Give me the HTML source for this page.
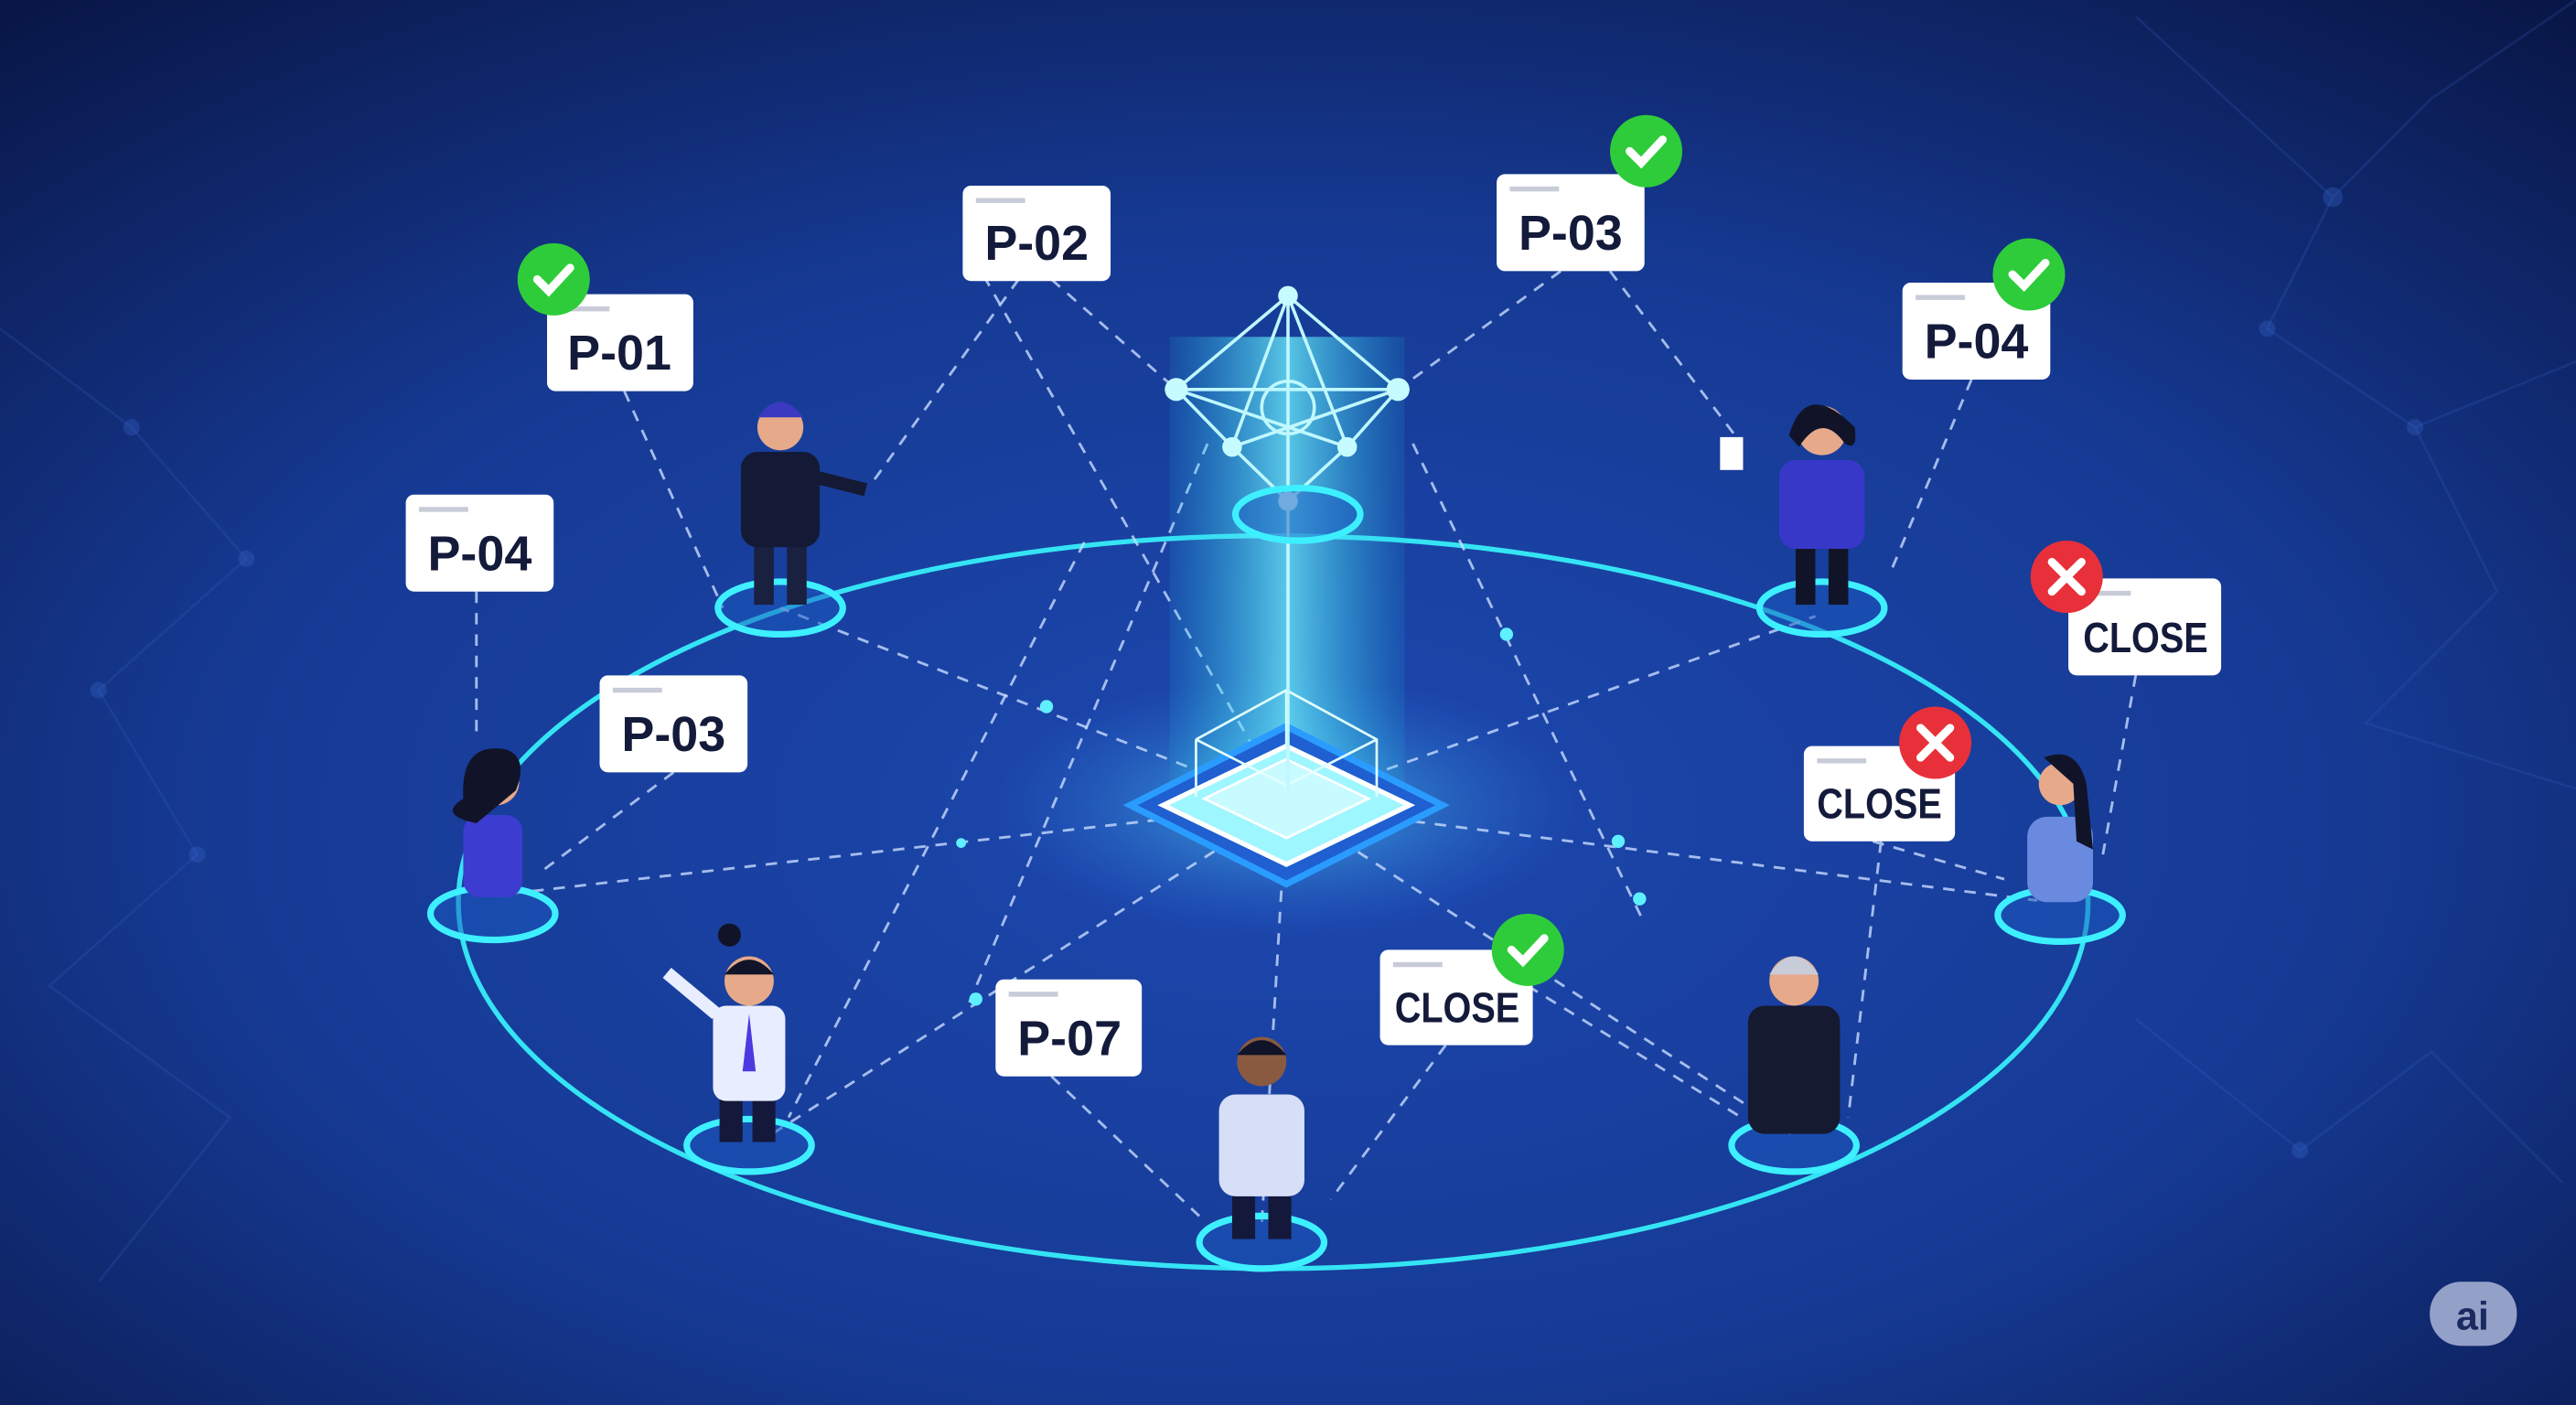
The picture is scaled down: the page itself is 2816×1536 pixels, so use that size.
<!DOCTYPE html>
<html><head><meta charset="utf-8"><style>
html,body{margin:0;padding:0;background:#0c1d58;overflow:hidden}
svg{display:block}
text{font-family:"Liberation Sans",sans-serif;font-weight:bold}
</style></head><body>
<svg width="2816" height="1536" viewBox="0 0 1568 855" preserveAspectRatio="none" xmlns="http://www.w3.org/2000/svg">
<defs>
<radialGradient id="bg" cx="0.5" cy="0.58" r="0.75">
<stop offset="0" stop-color="#1d48b0"/><stop offset="0.55" stop-color="#163a94"/><stop offset="1" stop-color="#091748"/>
</radialGradient>
<linearGradient id="pill" x1="0" x2="1">
<stop offset="0" stop-color="#22c8e8" stop-opacity="0.1"/><stop offset="0.5" stop-color="#6ff4ff" stop-opacity="0.75"/><stop offset="1" stop-color="#22c8e8" stop-opacity="0.1"/>
</linearGradient>
<radialGradient id="glow" cx="0.5" cy="0.5" r="0.5">
<stop offset="0" stop-color="#5ff0ff" stop-opacity="0.6"/><stop offset="1" stop-color="#2a7ae0" stop-opacity="0"/>
</radialGradient>
<g id="ring"><ellipse rx="38" ry="16" fill="#1a5ac0" fill-opacity="0.5" stroke="#3ef0ff" stroke-width="4"/></g>
</defs>
<rect width="1568" height="855" fill="url(#bg)"/>
<g stroke="#3a6acc" stroke-opacity="0.2" fill="none" stroke-width="1.5">
<path d="M0 200 L80 260 L150 340 L60 420 L120 520 L30 600 L140 680 L60 780"/>
<path d="M1300 10 L1420 120 L1480 60 L1568 0 M1420 120 L1380 200 L1470 260 L1568 220 M1470 260 L1520 360 L1440 440 L1568 480"/>
<path d="M1300 620 L1400 700 L1480 640 L1560 720"/>
</g>
<g fill="#3a6acc" fill-opacity="0.3"><circle cx="80" cy="260" r="5"/><circle cx="150" cy="340" r="5"/><circle cx="60" cy="420" r="5"/><circle cx="120" cy="520" r="5"/><circle cx="1420" cy="120" r="6"/><circle cx="1470" cy="260" r="5"/><circle cx="1400" cy="700" r="5"/><circle cx="1380" cy="200" r="5"/></g>
<ellipse cx="783" cy="490" rx="180" ry="80" fill="url(#glow)"/>
<ellipse cx="775" cy="549" rx="496" ry="223" fill="none" stroke="#35e4f4" stroke-width="3"/>
<g stroke="#c8dcff" stroke-opacity="0.8" stroke-width="1.6" stroke-dasharray="7 6" fill="none">
<path d="M783 490 L475 370 M783 490 L300 545 M783 490 L470 690 M783 490 L768 745 M783 490 L1090 690 M783 490 L1240 548 M783 490 L1105 375 M783 490 L600 170"/>
<path d="M620 170 L530 295 M640 170 L716 237 M380 238 L440 370 M290 360 L290 450 M410 470 L330 530 M950 165 L851 237 M980 165 L1060 270 M1200 231 L1150 350 M1300 411 L1280 520 M1140 512 L1220 535 M1145 512 L1125 680 M880 636 L810 730 M930 600 L1060 680 M640 655 L730 740 M860 270 L1000 560 M660 330 L480 680 M735 270 L590 610"/>
</g>
<g fill="#5ff0ff"><circle cx="637" cy="430" r="4"/><circle cx="917" cy="386" r="4"/><circle cx="998" cy="547" r="4"/><circle cx="985" cy="512" r="4"/><circle cx="594" cy="608" r="4"/><circle cx="585" cy="513" r="3"/></g>
<rect x="712" y="205" width="143" height="280" fill="url(#pill)"/>
<g transform="translate(783,490)">
<path d="M-95 0 L0 -48 L95 0 L0 48 Z" fill="#1f5fd0" stroke="#2a9cff" stroke-width="4"/>
<path d="M-75 0 L0 -36 L75 0 L0 36 Z" fill="#9ef6ff" stroke="#fff" stroke-width="3"/>
<path d="M-50 -4 L0 -28 L50 -4 L0 20 Z" fill="#c8fbff" stroke="#fff" stroke-width="1.5"/>
<path d="M-55 -40 L0 -70 L55 -40 L55 -5 M-55 -40 L-55 -5 M0 -70 L0 -35 M-55 -40 L0 -12 L55 -40" stroke="#e0ffff" stroke-width="1.5" fill="none"/>
</g>
<g stroke="#bff8ff" stroke-width="2" fill="none">
<path d="M784 180 L716 237 L750 272 L784 305 L820 272 L851 237 Z M784 180 L750 272 M784 180 L820 272 M716 237 L851 237 M716 237 L820 272 M851 237 L750 272 M784 180 L784 305 M784 305 L784 480"/>
<circle cx="784" cy="248" r="16"/>
</g>
<g fill="#c6fbff"><circle cx="784" cy="180" r="6"/><circle cx="716" cy="237" r="7"/><circle cx="851" cy="237" r="7"/><circle cx="750" cy="272" r="6"/><circle cx="820" cy="272" r="6"/><circle cx="784" cy="305" r="6"/></g>
<use href="#ring" x="790" y="313"/>
<use href="#ring" x="475" y="370"/><use href="#ring" x="300" y="556"/><use href="#ring" x="456" y="697"/><use href="#ring" x="768" y="756"/><use href="#ring" x="1092" y="697"/><use href="#ring" x="1254" y="557"/><use href="#ring" x="1109" y="370"/>
<g>
<g transform="translate(475,370)"><rect x="-16" y="-40" width="12" height="38" fill="#1a2040"/><rect x="4" y="-40" width="12" height="38" fill="#1a2040"/><rect x="-24" y="-95" width="48" height="58" rx="10" fill="#141a36"/><circle cx="0" cy="-110" r="14" fill="#e6a98a"/><path d="M-14 -116 Q0 -135 14 -116 Z" fill="#3a3ac0"/><path d="M20 -80 L52 -72" stroke="#141a36" stroke-width="8"/></g>
<g transform="translate(300,556)"><rect x="-18" y="-60" width="36" height="50" rx="10" fill="#3c3cd0"/><circle cx="2" cy="-80" r="14" fill="#e6a98a"/><path d="M-18 -70 Q-20 -105 8 -100 Q22 -95 14 -75 L-10 -55 Q-34 -60 -18 -70Z" fill="#111428"/></g>
<g transform="translate(456,697)"><rect x="-18" y="-30" width="14" height="28" fill="#14183a"/><rect x="2" y="-30" width="14" height="28" fill="#14183a"/><rect x="-22" y="-85" width="44" height="58" rx="8" fill="#e8eeff"/><path d="M0 -80 L-4 -45 L4 -45Z" fill="#4a3ae0"/><circle cx="0" cy="-100" r="15" fill="#e6a98a"/><path d="M-15 -104 Q0 -122 15 -104Z" fill="#111428"/><circle cx="-12" cy="-128" r="7" fill="#111428"/><path d="M-20 -80 L-50 -105" stroke="#e8eeff" stroke-width="8"/></g>
<g transform="translate(768,756)"><rect x="-18" y="-30" width="14" height="28" fill="#14183a"/><rect x="4" y="-30" width="14" height="28" fill="#14183a"/><rect x="-26" y="-90" width="52" height="62" rx="10" fill="#d6def8"/><circle cx="0" cy="-110" r="15" fill="#8a5a40"/><path d="M-15 -114 Q0 -132 15 -114Z" fill="#111428"/></g>
<g transform="translate(1092,697)"><rect x="-28" y="-85" width="56" height="78" rx="10" fill="#151a30"/><circle cx="0" cy="-100" r="15" fill="#e6a98a"/><path d="M-15 -104 Q0 -126 15 -104Z" fill="#c8ccd8"/></g>
<g transform="translate(1254,557)"><rect x="-20" y="-60" width="40" height="52" rx="12" fill="#6a8ae0"/><circle cx="0" cy="-80" r="13" fill="#e6a98a"/><path d="M-10 -96 Q10 -104 16 -80 L20 -40 L10 -45 L8 -80Z" fill="#111428"/></g>
<g transform="translate(1109,370)"><rect x="-16" y="-40" width="12" height="38" fill="#111428"/><rect x="4" y="-40" width="12" height="38" fill="#111428"/><rect x="-26" y="-90" width="52" height="54" rx="10" fill="#3838c8"/><circle cx="0" cy="-108" r="15" fill="#e6a98a"/><path d="M-20 -105 Q-10 -140 20 -110 Q22 -95 14 -100 Q0 -120 -14 -98Z" fill="#111428"/><rect x="-62" y="-104" width="14" height="20" fill="#fff"/></g>
</g>
<g fill="#fff"><rect x="586" y="113" width="90" height="58" rx="5"/><rect x="333" y="179" width="89" height="59" rx="5"/><rect x="911" y="106" width="90" height="59" rx="5"/><rect x="1158" y="172" width="90" height="59" rx="5"/><rect x="247" y="301" width="90" height="59" rx="5"/><rect x="365" y="411" width="90" height="59" rx="5"/><rect x="1259" y="352" width="93" height="59" rx="5"/><rect x="1098" y="454" width="92" height="58" rx="5"/><rect x="840" y="578" width="93" height="58" rx="5"/><rect x="606" y="596" width="89" height="59" rx="5"/></g>
<g stroke="#c8ccd8" stroke-width="3"><path d="M594 122h30M341 188h30M919 115h30M1166 181h30M255 310h30M373 420h30M1267 361h30M1106 463h30M848 587h30M614 605h30"/></g>
<g fill="#141a3a" font-size="30" text-anchor="middle">
<text x="631" y="158">P-02</text><text x="377" y="225">P-01</text><text x="956" y="152">P-03</text><text x="1203" y="218">P-04</text><text x="292" y="347">P-04</text><text x="410" y="457">P-03</text><text x="651" y="642">P-07</text>
</g>
<g fill="#141a3a" font-size="26" text-anchor="middle" lengthAdjust="spacingAndGlyphs">
<text x="1306" y="397" textLength="76" lengthAdjust="spacingAndGlyphs">CLOSE</text><text x="1144" y="498" textLength="76" lengthAdjust="spacingAndGlyphs">CLOSE</text><text x="887" y="622" textLength="76" lengthAdjust="spacingAndGlyphs">CLOSE</text>
</g>
<g fill="#2ecc3a"><circle cx="337" cy="170" r="22"/><circle cx="1002" cy="92" r="22"/><circle cx="1235" cy="167" r="22"/><circle cx="930" cy="578" r="22"/></g>
<g stroke="#fff" stroke-width="5" fill="none" stroke-linecap="round"><path d="M327 170l7 7 13-14M992 92l7 7 13-14M1225 167l7 7 13-14M920 578l7 7 13-14"/></g>
<g fill="#e8303a"><circle cx="1258" cy="351" r="22"/><circle cx="1178" cy="452" r="22"/></g>
<g stroke="#fff" stroke-width="5" stroke-linecap="round"><path d="M1249 342l18 18M1267 342l-18 18M1169 443l18 18M1187 443l-18 18"/></g>
<rect x="1479" y="780" width="53" height="39" rx="19" fill="#aab6d8" fill-opacity="0.85"/>
<text x="1505" y="809" font-size="24" fill="#1a2a60" text-anchor="middle">ai</text>
</svg>
</body></html>
